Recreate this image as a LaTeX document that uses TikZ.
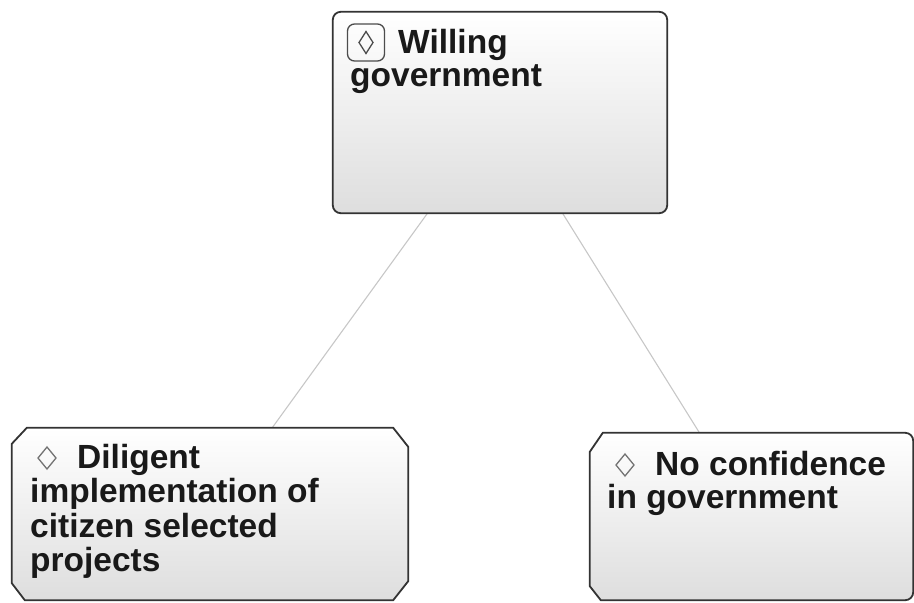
\documentclass[tikz,border=0pt]{standalone}
\usepackage{fontspec}
\setmainfont{Liberation Sans}
\begin{document}
\begin{tikzpicture}[x=1pt,y=-1pt,
  area/.style={rectangle, draw=none, inner sep=0pt},
  outline/.style={draw=black!80, line width=1.8pt, top color=white, bottom color=black!13},
  link/.style={draw=black!22, line width=1.1pt},
  label/.style={anchor=north west, inner sep=0pt, align=left, text=black!90,
    font=\fontsize{33.5}{33.5}\selectfont\bfseries},
  glyph/.style={draw=black!55, line width=1.3pt},
  iconbox/.style={draw=black!70, line width=1.3pt, rounded corners=7pt}
]
\useasboundingbox (0,0) rectangle (914,603);

% goal boxes (shapes are drawn below, the nodes give names and borders)
\node[area, minimum width=334pt, minimum height=201pt] (gov) at (500,112.5) {};
\node[area, minimum width=396pt, minimum height=172pt] (dil) at (210,514) {};
\node[area, minimum width=323pt, minimum height=167pt] (noconf) at (751.5,516.5) {};

% connectors
\draw[link] (gov) -- (dil);
\draw[link] (gov) -- (noconf);

% top box: rounded rectangle
\draw[outline, rounded corners=8pt] (gov.north west) rectangle (gov.south east);

% left box: chamfered on all corners
\draw[outline] ([xshift=15pt]dil.north west) -- ([xshift=-15pt]dil.north east)
  -- ([yshift=-19pt]dil.north east) -- ([yshift=19pt]dil.south east)
  -- ([xshift=-15pt]dil.south east) -- ([xshift=13pt]dil.south west)
  -- ([yshift=17pt]dil.south west) -- ([yshift=-16pt]dil.north west) -- cycle;

% right box: chamfered on the west side, rounded on the east side
\draw[outline] ([xshift=13pt]noconf.north west)
  [rounded corners=8pt] -- (noconf.north east) -- (noconf.south east)
  [sharp corners] -- ([xshift=11pt]noconf.south west)
  -- ([yshift=14pt]noconf.south west) -- ([yshift=-19pt]noconf.north west) -- cycle;

% icons
\draw[iconbox] (347.5,24) rectangle (384.5,61);
\draw[glyph, draw=black!70] (366,31.5) -- (373,42.5) -- (366,53.5) -- (359,42.5) -- cycle;
\draw[glyph] (47,447) -- (56,458) -- (47,469) -- (38,458) -- cycle;
\draw[glyph] (625,454) -- (634,465) -- (625,476) -- (616,465) -- cycle;

% labels
\node[label] (govtext) at (350,29) {\hspace*{48pt}Willing\\government};
\node[label, font=\fontsize{33.5}{34.3}\selectfont\bfseries] (diltext) at (30,444)
  {\hspace*{47pt}Diligent\\implementation of\\citizen selected\\projects};
\node[label] (nctext) at (607,451) {\hspace*{48pt}No confidence\\in government};
\end{tikzpicture}
\end{document}
